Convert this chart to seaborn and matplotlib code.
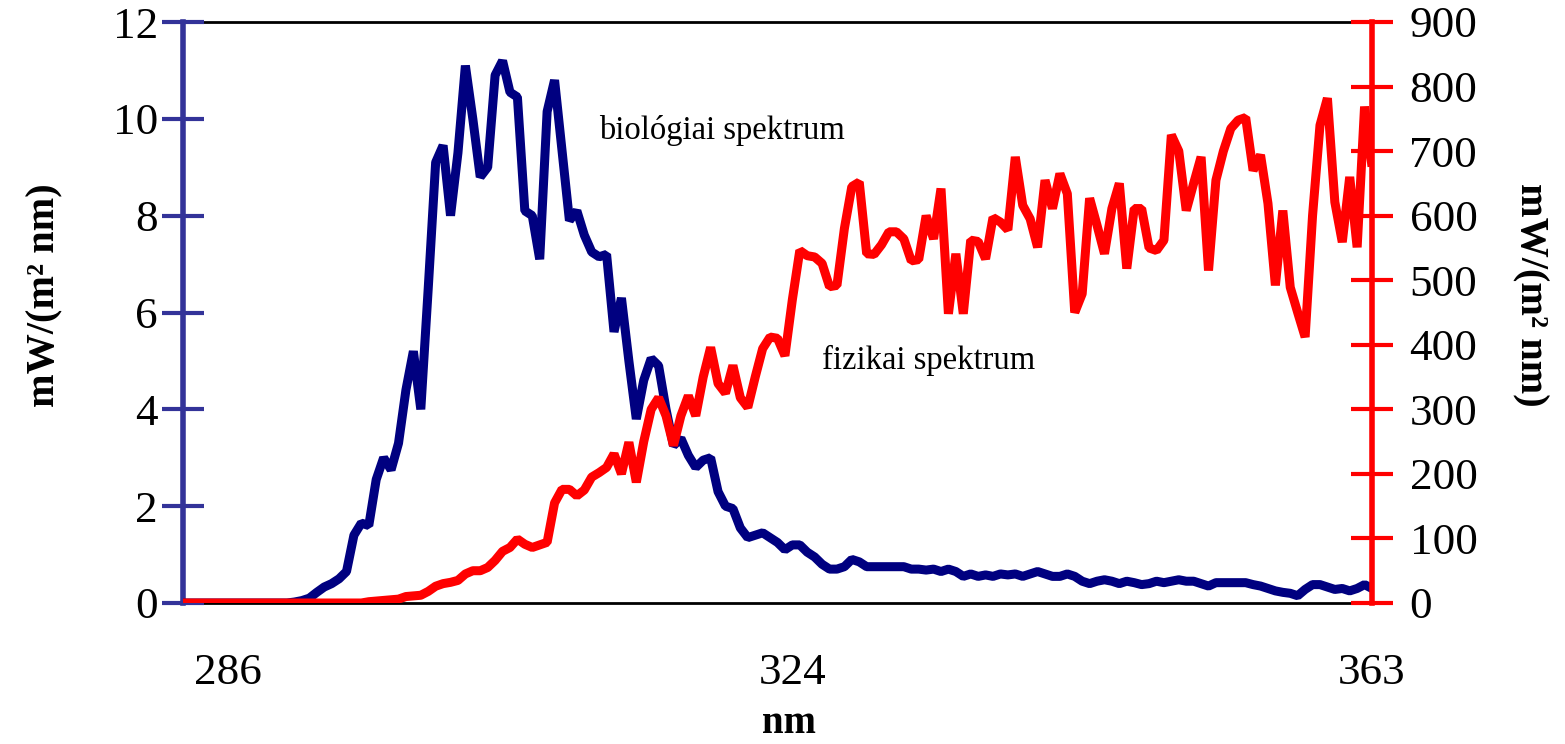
import numpy as np
import pandas as pd
import matplotlib
matplotlib.use("Agg")
import matplotlib.pyplot as plt
import seaborn as sns

# Wavelength grid (nm), 0.5 nm steps
wavelength = np.arange(283.0, 363.01, 0.5)

# Biologically weighted spectrum, mW/(m^2 nm)
biological = [
    0, 0, 0, 0, 0, 0, 0, 0, 0, 0, 0, 0, 0, 0, 0,
    0.02, 0.05, 0.1, 0.22, 0.33, 0.4, 0.5, 0.65, 1.4, 1.65, 1.6, 2.55, 3.0, 2.75, 3.3,
    4.4, 5.2, 4.0, 6.5, 9.1, 9.45, 8.0, 9.3, 11.1, 10.0, 8.8, 9.0, 10.9, 11.2, 10.55,
    10.45, 8.1, 8.0, 7.1, 10.15, 10.8, 9.35, 7.9, 8.1, 7.6, 7.25, 7.15, 7.2, 5.6, 6.3,
    5.0, 3.8, 4.6, 5.05, 4.9, 4.0, 3.25, 3.4, 3.05, 2.8, 2.95, 3.0, 2.3, 2.0, 1.95,
    1.55, 1.35, 1.4, 1.45, 1.35, 1.25, 1.1, 1.2, 1.2, 1.05, 0.95, 0.8, 0.7, 0.7, 0.75,
    0.9, 0.85, 0.75, 0.75, 0.75, 0.75, 0.75, 0.75, 0.7, 0.7, 0.68, 0.7, 0.65, 0.7, 0.65,
    0.55, 0.6, 0.55, 0.58, 0.55, 0.6, 0.58, 0.6, 0.55, 0.6, 0.65, 0.6, 0.55, 0.55, 0.6,
    0.55, 0.45, 0.4, 0.45, 0.48, 0.45, 0.4, 0.45, 0.42, 0.38, 0.4, 0.45, 0.42, 0.45, 0.48,
    0.45, 0.45, 0.4, 0.35, 0.42, 0.42, 0.42, 0.42, 0.42, 0.38, 0.35, 0.3, 0.25, 0.22, 0.2,
    0.15, 0.28, 0.38, 0.38, 0.33, 0.28, 0.3, 0.25, 0.3, 0.38, 0.3,
]

# Physical spectrum, mW/(m^2 nm)
physical = [
    0, 0, 0, 0, 0, 0, 0, 0, 0, 0, 0, 0, 0, 0, 0, 0, 0, 0, 0, 0, 0, 0, 0, 0, 0,
    2, 3, 4, 5, 6, 10, 11, 12, 18, 26, 30, 32, 35, 45, 50,
    50, 55, 66, 80, 86, 99, 91, 86, 90, 94, 155, 176, 176, 166, 175,
    195, 202, 210, 231, 200, 249, 187, 250, 300, 318, 290, 244, 290, 321, 290,
    350, 396, 340, 325, 368, 318, 303, 350, 394, 412, 410, 383, 470, 546, 538,
    536, 526, 490, 492, 580, 645, 652, 541, 540, 555, 575, 575, 564, 530, 532,
    600, 564, 642, 448, 541, 448, 562, 560, 533, 597, 590, 578, 691, 616, 595,
    551, 655, 611, 665, 634, 450, 479, 627, 585, 541, 611, 650, 518, 611, 611,
    550, 546, 562, 725, 700, 608, 650, 691, 515, 655, 700, 735, 748, 752, 670,
    694, 619, 492, 608, 489, 450, 412, 600, 740, 782, 621, 559, 660, 551, 769,
    676,
]

x_ticks = [286, 324, 363]
left_ticks = list(range(0, 13, 2))
right_ticks = list(range(0, 901, 100))

unit_label = "mW/(m² nm)"
x_label = "nm"
bio_label = "biológiai spektrum"
phys_label = "fizikai spektrum"

NAVY = "#000080"
RED = "#ff0000"
AXIS_BLUE = "#333399"

sns.set_style("white")
plt.rcParams["font.family"] = ["Liberation Serif", "DejaVu Serif"]
plt.rcParams["text.color"] = "black"
plt.rcParams["axes.labelcolor"] = "black"

df = pd.DataFrame({"nm": wavelength, "bio": biological, "phys": physical})

W, H = 1565, 744
fig = plt.figure(figsize=(W / 100, H / 100), dpi=100)
left_px, right_px, top_px, bottom_px = 183, 1372, 22, 603
ax = fig.add_axes([left_px / W, 1 - bottom_px / H,
                   (right_px - left_px) / W, (bottom_px - top_px) / H])
ax2 = ax.twinx()

sns.lineplot(data=df, x="nm", y="bio", ax=ax, color=NAVY, linewidth=6.5,
             solid_joinstyle="bevel", solid_capstyle="butt")
sns.lineplot(data=df, x="nm", y="phys", ax=ax2, color=RED, linewidth=6.5,
             solid_joinstyle="bevel", solid_capstyle="butt")

ax.set_xlim(283, 363)
ax.set_ylim(0, 12)
ax2.set_ylim(0, 900)

ax.set_xticks(x_ticks)
ax.set_xticklabels([str(t) for t in x_ticks])
ax.set_yticks(left_ticks)
ax2.set_yticks(right_ticks)

ax.tick_params(axis="x", length=0, pad=36, labelsize=32.5, colors="black")
ax.tick_params(axis="y", direction="inout", length=30, width=3, color=AXIS_BLUE,
               labelsize=32.5, labelcolor="black", pad=3)
ax2.tick_params(axis="y", direction="inout", length=30, width=3, color=RED,
                labelsize=32.5, labelcolor="black", pad=12)

# spines: blue left, red right, black top/bottom
for side in ("top", "bottom"):
    ax.spines[side].set_color("black")
    ax.spines[side].set_linewidth(2.0)
    ax2.spines[side].set_visible(False)
ax.spines["left"].set_color(AXIS_BLUE)
ax.spines["left"].set_linewidth(4)
ax.spines["right"].set_visible(False)
ax2.spines["left"].set_visible(False)
ax2.spines["right"].set_color(RED)
ax2.spines["right"].set_linewidth(4)
for s in ax.spines.values():
    s.set_zorder(0.5)

ax.set_xlabel(x_label, fontsize=28, fontweight="bold", va="center")
ax.xaxis.set_label_coords(0.51, -0.207)
ax.set_ylabel(unit_label, fontsize=29, fontweight="bold", va="center", ha="center")
ax.yaxis.set_label_coords(-0.116, 0.53)
ax2.set_ylabel(unit_label, fontsize=29, fontweight="bold", rotation=270,
               va="center", ha="center")
ax2.yaxis.set_label_coords(1.133, 0.53)

ax.text(311.0, 9.75, bio_label, fontsize=23.5, ha="left", va="center", color="black")
ax.text(326.0, 5.0, phys_label, fontsize=23.5, ha="left", va="center", color="black")

fig.savefig("out.png", dpi=100)
